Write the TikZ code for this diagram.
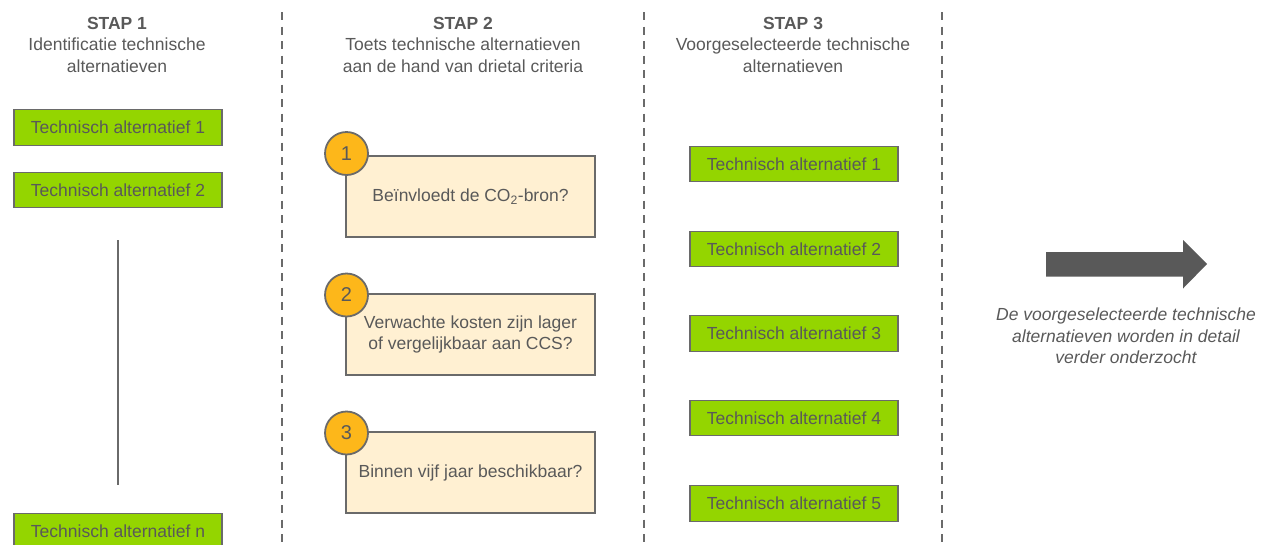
\documentclass[tikz,border=0pt]{standalone}
\usepackage{fontspec}
\setmainfont{Liberation Sans}
\usetikzlibrary{calc}
\definecolor{txt}{HTML}{595959}
\definecolor{grn}{HTML}{94D500}
\definecolor{brd}{HTML}{6A6A6A}
\definecolor{cream}{HTML}{FFF0D2}
\definecolor{gold}{HTML}{FDB71A}
\definecolor{arr}{HTML}{595959}
\tikzset{
  every node/.style={text=txt},
  hdr/.style={align=center, font=\fontsize{17.5}{21.5}\selectfont},
  altbox/.style={draw=brd, line width=1.3pt, fill=grn, minimum width=208pt, minimum height=35.5pt, inner sep=0pt, font=\fontsize{17.5}{20}\selectfont},
  critbox/.style={draw=brd, line width=1.3pt, fill=cream, minimum width=249pt, minimum height=81pt, inner sep=0pt, align=center, font=\fontsize{17.5}{21.5}\selectfont},
  numcirc/.style={circle, draw=brd, line width=1.8pt, fill=gold, minimum size=43pt, inner sep=0pt, font=\fontsize{20}{22}\selectfont},
  divider/.style={draw=brd, line width=2pt, dash pattern=on 8pt off 6.5pt},
  note/.style={align=center, font=\fontsize{17.5}{21.5}\selectfont\itshape}
}
\begin{document}
\begin{tikzpicture}[x=1pt,y=-1pt]
\useasboundingbox (0,0) rectangle (1265,544);
% dividers
\coordinate (d1t) at (282,12); \coordinate (d1b) at (282,544);
\coordinate (d2t) at (644,12); \coordinate (d2b) at (644,544);
\coordinate (d3t) at (942,12); \coordinate (d3b) at (942,544);
\path[divider] (d1t) -- (d1b);
\path[divider] (d2t) -- (d2b);
\path[divider] (d3t) -- (d3b);
% headers
\node[hdr] (h1) at (117,44.5) {\textbf{STAP 1}\\Identificatie technische\\alternatieven};
\node[hdr] (h2) at (463,44.5) {\textbf{STAP 2}\\Toets technische alternatieven\\aan de hand van drietal criteria};
\node[hdr] (h3) at (793,44.5) {\textbf{STAP 3}\\Voorgeselecteerde technische\\alternatieven};
% step 1
\node[altbox] (a1) at (118,127.5) {Technisch alternatief 1};
\node[altbox] (a2) at (118,190) {Technisch alternatief 2};
\node[altbox] (an) at (118,531) {Technisch alternatief n};
\coordinate (vt) at (118,240); \coordinate (vb) at (118,485);
\draw[brd, line width=2pt] (vt) -- (vb);
% step 2
\node[critbox] (c1) at (470.5,196.5) {Beïnvloedt de CO\textsubscript{2}-bron?};
\node[critbox] (c2) at (470.5,334.5) {Verwachte kosten zijn lager\\of vergelijkbaar aan CCS?};
\node[critbox] (c3) at (470.5,472.5) {Binnen vijf jaar beschikbaar?};
\node[numcirc] (n1) at (346.5,153.5) {1};
\node[numcirc] (n2) at (346.5,295) {2};
\node[numcirc] (n3) at (346.5,433) {3};
% step 3
\node[altbox] (s1) at (794,164) {Technisch alternatief 1};
\node[altbox] (s2) at (794,249) {Technisch alternatief 2};
\node[altbox] (s3) at (794,333.5) {Technisch alternatief 3};
\node[altbox] (s4) at (794,418) {Technisch alternatief 4};
\node[altbox] (s5) at (794,503.5) {Technisch alternatief 5};
% big arrow
\fill[arr] (1046,252) -- (1183,252) -- (1183,240) -- (1207,264) -- (1183,288.5) -- (1183,276.5) -- (1046,276.5) -- cycle;
\node[note] (nt) at (1126,336) {De voorgeselecteerde technische\\alternatieven worden in detail\\verder onderzocht};
\end{tikzpicture}
\end{document}
